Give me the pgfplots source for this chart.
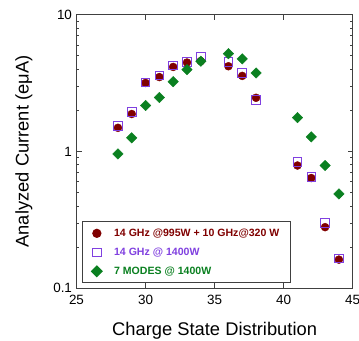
\documentclass[border=0pt]{standalone}
\usepackage{fontspec}
\setmainfont{Liberation Sans}
\usepackage{pgfplots}
\pgfplotsset{compat=1.18}
\definecolor{cred}{HTML}{800000}
\definecolor{cpur}{HTML}{8040E0}
\definecolor{cgrn}{HTML}{0A8020}
\definecolor{cax}{HTML}{404040}
\begin{document}
\begin{tikzpicture}
\useasboundingbox (-76.5bp,-52.7bp) rectangle (282.5bp,288.3bp);
\begin{axis}[
  at={(0,0)}, anchor=south west,
  scale only axis, width=276.2bp, height=273.6bp,
  ymode=log, xmin=25, xmax=45, ymin=0.1, ymax=10,
  xtick={25,30,35,40,45},
  ytick={0.1,1,10}, yticklabels={0.1,1,10},
  minor ytick={},
  tick align=inside, major tick length=5bp,
  tick style={cax, line width=0.8bp},
  axis line style={cax, line width=1.2bp},
  ticklabel style={font=\fontsize{13.5}{15}\selectfont},
  xticklabel style={yshift=-3bp},
  yticklabel style={xshift=-1bp},
  /pgf/number format/assume math mode=true,
  xlabel={Charge State Distribution},
  ylabel={Analyzed Current (eμA)},
  label style={font=\fontsize{18.4}{20}\selectfont},
  xlabel style={yshift=-11bp},
  ylabel style={yshift=14bp},
  clip=false,
  legend style={at={(0.02,0.018)}, anchor=south west, draw=cax, line width=1.2bp,
    font=\fontsize{10.6}{12}\selectfont\bfseries, row sep=6bp, inner xsep=9bp, inner ysep=5bp,
    /tikz/every odd column/.append style={column sep=10bp}},
  legend cell align=left,
]
\addplot[only marks, mark=*, mark size=4bp, color=cred, mark options={fill=cred, draw=cred}] coordinates {
(28,1.49) (29,1.88) (30,3.17) (31,3.5) (32,4.15) (33,4.47) (34,4.58) (36,4.2) (37,3.57) (38,2.47) (41,0.79) (42,0.64) (43,0.28) (44,0.162)};
\addlegendentry{\textcolor{cred}{14 GHz @995W + 10 GHz@320 W}}
\addplot[only marks, mark=square, mark size=4.3bp, color=cpur, mark options={draw=cpur, line width=0.9bp}] coordinates {
(28,1.54) (29,1.95) (30,3.2) (31,3.6) (32,4.25) (33,4.5) (34,4.89) (36,4.5) (37,3.75) (38,2.38) (41,0.84) (42,0.65) (43,0.30) (44,0.165)};
\addlegendentry{\textcolor{cpur}{14 GHz @ 1400W}}
\addplot[only marks, mark=square*, mark size=3.7bp, color=cgrn, mark options={fill=cgrn, draw=cgrn, rotate=45}] coordinates {
(28,0.96) (29,1.26) (30,2.17) (31,2.48) (32,3.24) (33,3.97) (34,4.57) (36,5.19) (37,4.75) (38,3.75) (41,1.77) (42,1.28) (43,0.79) (44,0.49)};
\addlegendentry{\textcolor{cgrn}{7 MODES @ 1400W}}
\end{axis}
\end{tikzpicture}
\end{document}
